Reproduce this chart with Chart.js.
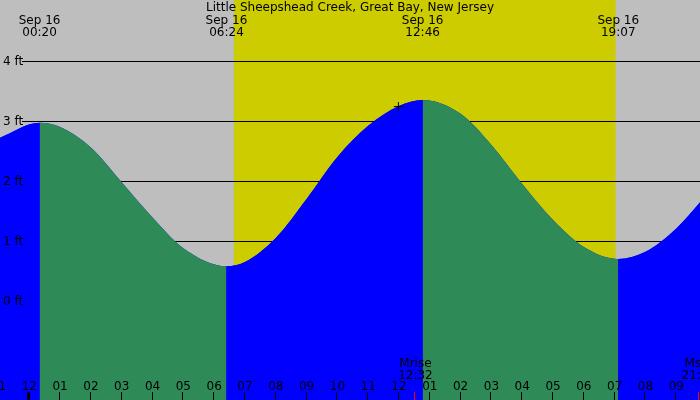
<!DOCTYPE html>
<html>
<head>
<meta charset="utf-8">
<title>Tide chart</title>
<script src="https://cdn.jsdelivr.net/npm/chart.js@4.4.1/dist/chart.umd.min.js"></script>
<style>
  html, body { margin: 0; padding: 0; background: #bebebe; }
  #tideChart { display: block; }
</style>
</head>
<body>
<canvas id="tideChart" width="700" height="400"></canvas>
<script>
// station + data (hours from midnight Sep 16, feet)
var stationName = 'Little Sheepshead Creek, Great Bay, New Jersey';
var tideHours = [-1, 0.333, 1, 2, 3, 4, 5, 6.4, 7, 8, 9, 10, 11, 12, 12.767, 14, 15, 16, 17, 18, 19.117, 20, 21, 22];
var tideFeet  = [2.71, 2.97, 2.90, 2.56, 1.98, 1.39, 0.88, 0.58, 0.65, 1.05, 1.70, 2.40, 2.92, 3.25, 3.35, 3.12, 2.60, 1.95, 1.35, 0.90, 0.70, 0.82, 1.21, 1.78];
var extremeHours = [0.333, 6.4, 12.767, 19.117];
var extremeTimes = ['00:20', '06:24', '12:46', '19:07'];
var extremeDay = 'Sep 16';
var sunHours = [6.64, 19.03];            // sunrise, sunset
var moonHours = [12.533, 21.733];
var moonNames = ['Mrise', 'Mset'];
var moonTimes = ['12:32', '21:44'];
var hourTicks  = [-1, 0, 1, 2, 3, 4, 5, 6, 7, 8, 9, 10, 11, 12, 13, 14, 15, 16, 17, 18, 19, 20, 21];
var hourLabels = ['11', '12', '01', '02', '03', '04', '05', '06', '07', '08', '09', '10', '11',
                  '12', '01', '02', '03', '04', '05', '06', '07', '08', '09'];
var footTicks = [0, 1, 2, 3, 4];
var nowHour = [11.98];
var nowFeet = [3.24];

var FONT = '12px "DejaVu Sans"';
var RISING = '#0000ff', FALLING = '#2e8b57';

var tidePoints = tideHours.map(function(h, i){ return {x: h, y: tideFeet[i]}; });
var nowPoints = nowHour.map(function(h, i){ return {x: h, y: nowFeet[i]}; });

// background, daylight band and grid lines go under the water
var backdrop = {
    id: 'backdrop',
    beforeDraw: function(chart){
        var ctx = chart.ctx;
        ctx.save();
        ctx.fillStyle = '#bebebe';
        ctx.fillRect(0, 0, chart.width, chart.height);
        ctx.restore();
    },
    beforeDatasetsDraw: function(chart){
        var ctx = chart.ctx, xs = chart.scales.x, ys = chart.scales.y, area = chart.chartArea;
        ctx.save();
        var x0 = xs.getPixelForValue(sunHours[0]), x1 = xs.getPixelForValue(sunHours[1]);
        ctx.fillStyle = '#cccc00';
        ctx.fillRect(x0, area.top, x1 - x0, area.bottom - area.top);
        ctx.strokeStyle = '#000';
        ctx.lineWidth = 1;
        footTicks.forEach(function(v){
            var y = Math.round(ys.getPixelForValue(v)) + 0.5;
            ctx.beginPath();
            ctx.moveTo(22, y);
            ctx.lineTo(area.right, y);
            ctx.stroke();
        });
        ctx.restore();
    },
    afterDatasetsDraw: function(chart){
        var ctx = chart.ctx, xs = chart.scales.x;
        ctx.save();
        ctx.font = FONT;
        ctx.fillStyle = '#000';
        ctx.textAlign = 'center';
        ctx.textBaseline = 'alphabetic';
        ctx.fillText(stationName, 350, 11);
        extremeHours.forEach(function(h, i){
            var x = xs.getPixelForValue(h);
            ctx.fillText(extremeDay, x, 24);
            ctx.fillText(extremeTimes[i], x, 36);
        });
        // hour ticks along the bottom
        hourTicks.forEach(function(h, i){
            var x = xs.getPixelForValue(h);
            ctx.fillText(hourLabels[i], x, 390);
            if (h % 24 === 0) ctx.fillRect(Math.round(x) - 2, 392, 3, 8);
            else ctx.fillRect(Math.round(x) - 1, 392, 1, 8);
        });
        moonHours.forEach(function(h, i){
            var x = xs.getPixelForValue(h);
            ctx.fillStyle = '#000';
            ctx.fillText(moonNames[i], x, 367);
            ctx.fillText(moonTimes[i], x, 379);
            ctx.fillStyle = '#ff0000';
            ctx.fillRect(Math.round(x) - 1, 392, 1, 8);
        });
        ctx.restore();
    }
};

var waterStyle = {
    fill: 'start',
    borderColor: 'rgba(0,0,0,0)',
    borderWidth: 0,
    pointRadius: 0,
    cubicInterpolationMode: 'monotone'
};

var ctx = document.getElementById('tideChart').getContext('2d');
var tideChart = new Chart(ctx, {
    type: 'line',
    data: {
        datasets: [{
            type: 'scatter',
            data: nowPoints,
            pointStyle: 'cross',
            pointRadius: 4.5,
            borderColor: '#000',
            borderWidth: 1,
            clip: false,
            order: 0
        }, Object.assign({
            data: tidePoints,
            backgroundColor: RISING,
            segment: {
                // rising water blue, falling water green
                backgroundColor: function(c){ return c.p1.parsed.y >= c.p0.parsed.y ? RISING : FALLING; }
            },
            order: 1
        }, waterStyle), Object.assign({
            // plain blue underlay so the colour seams don't show the background
            data: tidePoints,
            backgroundColor: RISING,
            order: 2
        }, waterStyle)]
    },
    options: {
        responsive: false,
        animation: false,
        layout: { padding: 0, autoPadding: false },
        plugins: { legend: { display: false }, tooltip: { enabled: false } },
        scales: {
            x: { type: 'linear', min: -0.951, max: 21.77, display: false },
            y: {
                type: 'linear', min: -1.65, max: 5.017,
                grid: { display: false, drawTicks: false },
                border: { display: false },
                afterBuildTicks: function(s){ s.ticks = footTicks.map(function(v){ return {value: v}; }); },
                afterFit: function(s){ s.width = 0; s.paddingTop = 0; s.paddingBottom = 0; },
                ticks: {
                    z: 1, mirror: true, padding: 3, labelOffset: 1, color: '#000',
                    font: { family: 'DejaVu Sans', size: 12 },
                    callback: function(v){ return v + ' ft'; }
                }
            }
        }
    },
    plugins: [backdrop]
});
</script>
</body>
</html>
